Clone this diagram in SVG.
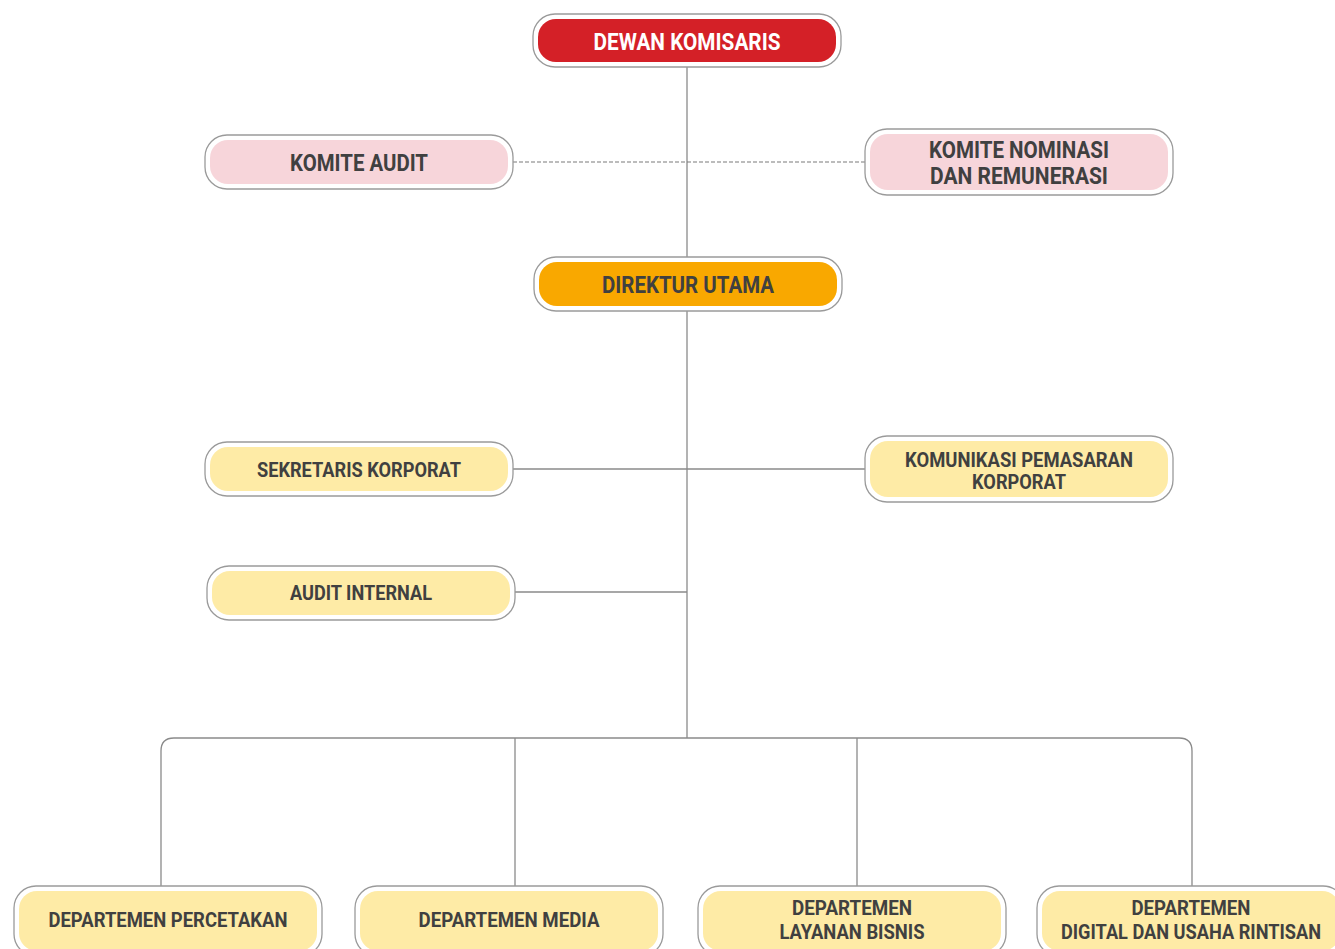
<svg xmlns="http://www.w3.org/2000/svg" width="1335" height="949" viewBox="0 0 1335 949">
<style>
.o{fill:#fff;stroke:#9a9a9a;stroke-width:1.3}
.red{fill:#d42027}.pink{fill:#f7d5da}.org{fill:#f9a800}.yel{fill:#feeba6}
text{font-family:Roboto,"Liberation Sans",sans-serif;font-weight:700;fill:#404040;text-anchor:middle;dominant-baseline:central}
.big{font-size:23px}.sm{font-size:20px}
.w{fill:#fff}
.ln{fill:none;stroke:#8a8a8a;stroke-width:1.3}
.dash{fill:none;stroke:#7a7a7a;stroke-width:1.2;stroke-dasharray:4 2}
</style>
<rect width="1335" height="949" fill="#fff"/>
<g id="connectors">
<line class="ln" x1="687" y1="67" x2="687" y2="257"/>
<line class="dash" x1="513" y1="162" x2="865" y2="162"/>
<line class="ln" x1="687" y1="311" x2="687" y2="738"/>
<line class="ln" x1="513" y1="469" x2="865" y2="469"/>
<line class="ln" x1="515" y1="592" x2="687" y2="592"/>
<path class="ln" d="M161,886 V751 Q161,738 174,738 H1179 Q1192,738 1192,751 V886"/>
<line class="ln" x1="515" y1="738" x2="515" y2="886"/>
<line class="ln" x1="857" y1="738" x2="857" y2="886"/>
</g>
<g id="dewan-komisaris">
<rect class="o" x="533" y="14" width="308" height="53" rx="22"/>
<rect class="red" x="538" y="19" width="298" height="43" rx="18"/>
<text class="big w" x="687" y="42" textLength="187" lengthAdjust="spacingAndGlyphs">DEWAN KOMISARIS</text>
</g>
<g id="komite-audit">
<rect class="o" x="205" y="135" width="308" height="54" rx="22"/>
<rect class="pink" x="210" y="140" width="298" height="44" rx="18"/>
<text class="big" x="359" y="163" textLength="138" lengthAdjust="spacingAndGlyphs">KOMITE AUDIT</text>
</g>
<g id="komite-nominasi">
<rect class="o" x="865" y="129" width="308" height="66" rx="22"/>
<rect class="pink" x="870" y="134" width="298" height="56" rx="18"/>
<text class="big" x="1019" y="150" textLength="180" lengthAdjust="spacingAndGlyphs">KOMITE NOMINASI</text>
<text class="big" x="1019" y="176" textLength="178" lengthAdjust="spacingAndGlyphs">DAN REMUNERASI</text>
</g>
<g id="direktur-utama">
<rect class="o" x="534" y="257" width="308" height="54" rx="22"/>
<rect class="org" x="539" y="262" width="298" height="44" rx="18"/>
<text class="big" x="688" y="285" textLength="172" lengthAdjust="spacingAndGlyphs">DIREKTUR UTAMA</text>
</g>
<g id="sekretaris-korporat">
<rect class="o" x="205" y="442" width="308" height="54" rx="22"/>
<rect class="yel" x="210" y="447" width="298" height="44" rx="18"/>
<text class="sm" x="359" y="470" textLength="204" lengthAdjust="spacingAndGlyphs">SEKRETARIS KORPORAT</text>
</g>
<g id="komunikasi-pemasaran">
<rect class="o" x="865" y="436" width="308" height="66" rx="22"/>
<rect class="yel" x="870" y="441" width="298" height="56" rx="18"/>
<text class="sm" x="1019" y="460" textLength="228" lengthAdjust="spacingAndGlyphs">KOMUNIKASI PEMASARAN</text>
<text class="sm" x="1019" y="482" textLength="94" lengthAdjust="spacingAndGlyphs">KORPORAT</text>
</g>
<g id="audit-internal">
<rect class="o" x="207" y="566" width="308" height="54" rx="22"/>
<rect class="yel" x="212" y="571" width="298" height="44" rx="18"/>
<text class="sm" x="361" y="593" textLength="142" lengthAdjust="spacingAndGlyphs">AUDIT INTERNAL</text>
</g>
<g id="dept-percetakan">
<rect class="o" x="14" y="886" width="308" height="70" rx="22"/>
<rect class="yel" x="19" y="891" width="298" height="60" rx="18"/>
<text class="sm" x="168" y="920" textLength="239" lengthAdjust="spacingAndGlyphs">DEPARTEMEN PERCETAKAN</text>
</g>
<g id="dept-media">
<rect class="o" x="355" y="886" width="308" height="70" rx="22"/>
<rect class="yel" x="360" y="891" width="298" height="60" rx="18"/>
<text class="sm" x="509" y="920" textLength="181" lengthAdjust="spacingAndGlyphs">DEPARTEMEN MEDIA</text>
</g>
<g id="dept-layanan">
<rect class="o" x="698" y="886" width="308" height="70" rx="22"/>
<rect class="yel" x="703" y="891" width="298" height="60" rx="18"/>
<text class="sm" x="852" y="908" textLength="120" lengthAdjust="spacingAndGlyphs">DEPARTEMEN</text>
<text class="sm" x="852" y="932" textLength="145" lengthAdjust="spacingAndGlyphs">LAYANAN BISNIS</text>
</g>
<g id="dept-digital">
<rect class="o" x="1037" y="886" width="308" height="70" rx="22"/>
<rect class="yel" x="1042" y="891" width="298" height="60" rx="18"/>
<text class="sm" x="1191" y="908" textLength="119" lengthAdjust="spacingAndGlyphs">DEPARTEMEN</text>
<text class="sm" x="1191" y="932" textLength="260" lengthAdjust="spacingAndGlyphs">DIGITAL DAN USAHA RINTISAN</text>
</g>
</svg>
